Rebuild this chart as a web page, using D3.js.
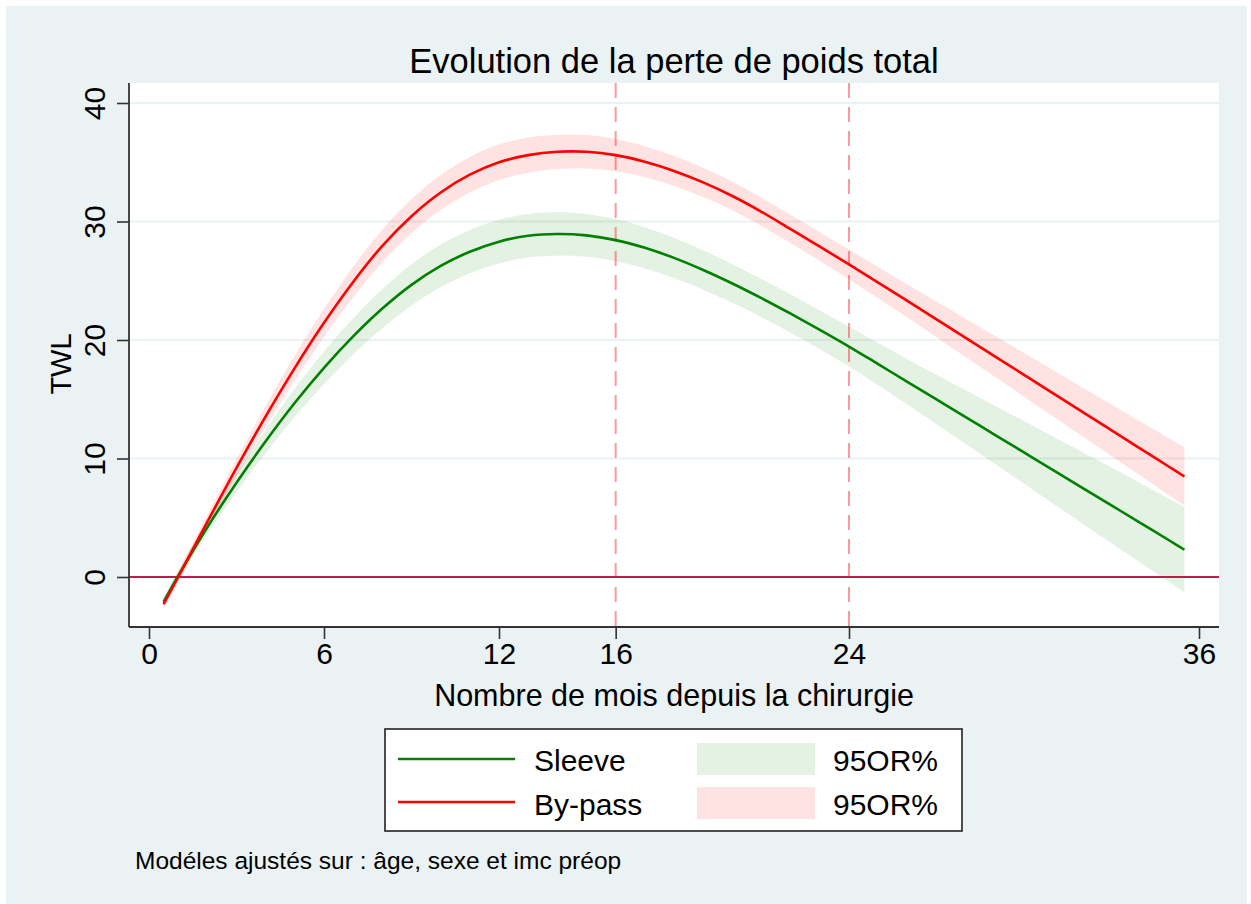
<!DOCTYPE html>
<html>
<head>
<meta charset="utf-8">
<script src="https://cdn.jsdelivr.net/npm/d3@7"></script>
<style>
  html, body { margin: 0; padding: 0; background: #ffffff; }
  svg { display: block; }
  text { font-family: "Liberation Sans", Arial, sans-serif; fill: #000; }
</style>
</head>
<body>
<svg id="chart" width="1251" height="904"></svg>
<script>
const months = [0.5,1,2,3,4,5,6,7,8,9,10,11,12,13,14,15,16,17,18,19,20,21,22,23,24,25,26,27,28,29,30,31,32,33,34,35,35.5];

const sleeve   = [-2.1,0.1,4.2,7.95,11.45,14.7,17.65,20.3,22.65,24.65,26.25,27.45,28.3,28.8,28.95,28.83,28.43,27.78,26.93,25.91,24.77,23.53,22.22,20.86,19.45,17.96,16.47,14.98,13.49,12.0,10.51,9.02,7.53,6.04,4.55,3.06,2.3];
const sleeveLo = [-2.5,-0.35,3.6,7.15,10.45,13.5,16.27,18.77,21.0,22.91,24.45,25.62,26.46,26.96,27.12,27.02,26.65,26.04,25.23,24.25,23.14,21.92,20.61,19.23,17.77,16.18,14.55,12.9,11.23,9.55,7.86,6.18,4.51,2.84,1.18,-0.46,-1.3];
const sleeveHi = [-1.7,0.55,4.8,8.75,12.45,15.9,19.03,21.83,24.3,26.39,28.05,29.28,30.14,30.64,30.78,30.64,30.21,29.52,28.63,27.57,26.4,25.14,23.83,22.49,21.13,19.74,18.39,17.06,15.75,14.45,13.16,11.86,10.55,9.24,7.92,6.58,5.9];

const bypass   = [-2.3,0.0,4.65,9.2,13.55,17.65,21.45,24.9,27.95,30.45,32.45,33.95,35.0,35.6,35.88,35.88,35.6,35.05,34.27,33.3,32.15,30.82,29.35,27.88,26.38,24.85,23.3,21.74,20.18,18.62,17.06,15.5,13.94,12.38,10.82,9.26,8.48];
const bypassLo = [-2.7,-0.45,4.05,8.45,12.65,16.6,20.27,23.61,26.57,29.01,30.97,32.45,33.5,34.12,34.43,34.47,34.24,33.74,33.0,32.07,30.95,29.63,28.16,26.67,25.13,23.53,21.89,20.23,18.56,16.89,15.22,13.55,11.88,10.21,8.54,6.86,6.02];
const bypassHi = [-1.9,0.45,5.25,9.95,14.45,18.7,22.63,26.19,29.33,31.89,33.93,35.45,36.5,37.08,37.33,37.29,36.96,36.36,35.54,34.53,33.35,32.01,30.54,29.09,27.63,26.17,24.71,23.25,21.8,20.35,18.9,17.45,16.0,14.55,13.1,11.66,10.94];

const xTicks = [0, 6, 12, 16, 24, 36];
const yTicks = [0, 10, 20, 30, 40];
const refMonths = [16, 24];
const refZero = [0];

const titleText = "Evolution de la perte de poids total";
const xTitle = "Nombre de mois depuis la chirurgie";
const yTitle = "TWL";
const seriesNames = ["Sleeve", "By-pass"];
const ciLabel = "95OR%";
const noteText = "Modéles ajustés sur : âge, sexe et imc préop";

// ---- layout ----
const svg = d3.select("#chart");
const plotL = 129, plotR = 1219, plotT = 83, plotB = 627;

svg.append("rect").attr("x", 6).attr("y", 6).attr("width", 1241).attr("height", 898).attr("fill", "#eaf2f3");
svg.append("rect").attr("x", plotL).attr("y", plotT).attr("width", plotR - plotL).attr("height", plotB - plotT).attr("fill", "#ffffff");

const x = d3.scaleLinear().domain([0, 36]).range([149, 1199]);
const y = d3.scaleLinear().domain([0, 40]).range([577, 103]);

// gridlines
svg.append("g").selectAll("line").data(yTicks.filter(d => d !== 0)).join("line")
  .attr("x1", plotL).attr("x2", plotR)
  .attr("y1", d => y(d)).attr("y2", d => y(d))
  .attr("stroke", "#eaf2f3").attr("stroke-width", 2);

function rows(mid, lo, hi) { return months.map((m, i) => ({ m, v: mid[i], lo: lo[i], hi: hi[i] })); }
const sData = rows(sleeve, sleeveLo, sleeveHi);
const bData = rows(bypass, bypassLo, bypassHi);

const curve = d3.curveCatmullRom.alpha(0.5);
const area = d3.area().x(d => x(d.m)).y0(d => y(d.lo)).y1(d => y(d.hi)).curve(curve);
const line = d3.line().x(d => x(d.m)).y(d => y(d.v)).curve(curve);

const greenBand = "rgba(0,128,0,0.105)";
const redBand = "rgba(255,0,0,0.115)";

svg.append("path").datum(sData).attr("d", area).attr("fill", greenBand);
svg.append("path").datum(bData).attr("d", area).attr("fill", redBand);

// reference lines
svg.append("g").selectAll("line").data(refMonths).join("line")
  .attr("x1", d => x(d)).attr("x2", d => x(d))
  .attr("y1", plotT).attr("y2", plotB)
  .attr("stroke", "rgba(255,50,50,0.5)").attr("stroke-width", 2)
  .attr("stroke-dasharray", "15,9");

svg.append("g").selectAll("line").data(refZero).join("line")
  .attr("x1", plotL).attr("x2", plotR)
  .attr("y1", d => y(d)).attr("y2", d => y(d))
  .attr("stroke", "#c21a4a").attr("stroke-width", 2.2);

svg.append("path").datum(sData).attr("d", line).attr("fill", "none").attr("stroke", "#008000").attr("stroke-width", 2.6);
svg.append("path").datum(bData).attr("d", line).attr("fill", "none").attr("stroke", "#ff0000").attr("stroke-width", 2.6);

// axes
const xAxis = d3.axisBottom(x).tickValues(xTicks).tickSize(12).tickSizeOuter(0).tickPadding(4);
const gx = svg.append("g").attr("transform", `translate(0,${plotB})`).call(xAxis);
gx.select(".domain").remove();
gx.selectAll(".tick line").attr("stroke", "#333").attr("stroke-width", 1.6);
gx.selectAll(".tick text").attr("font-size", 30).attr("font-family", "Liberation Sans, Arial, sans-serif").attr("fill", "#000");
svg.append("line").attr("x1", plotL).attr("x2", plotR).attr("y1", plotB).attr("y2", plotB).attr("stroke", "#333").attr("stroke-width", 1.8);

const yAxis = d3.axisLeft(y).tickValues(yTicks).tickSize(12).tickSizeOuter(0).tickFormat(d3.format("d"));
const gy = svg.append("g").attr("transform", `translate(${plotL},0)`).call(yAxis);
gy.select(".domain").remove();
gy.selectAll(".tick line").attr("stroke", "#333").attr("stroke-width", 1.6);
gy.selectAll(".tick text")
  .attr("font-size", 30).attr("font-family", "Liberation Sans, Arial, sans-serif").attr("fill", "#000")
  .attr("x", null).attr("dy", null)
  .attr("text-anchor", "middle")
  .attr("transform", "translate(-24,0) rotate(-90)");
svg.append("line").attr("x1", plotL).attr("x2", plotL).attr("y1", plotT).attr("y2", plotB).attr("stroke", "#333").attr("stroke-width", 1.8);

// titles
svg.append("text").attr("x", (plotL + plotR) / 2).attr("y", 73).attr("text-anchor", "middle")
  .attr("font-size", 34.5).text(titleText);
svg.append("text").attr("x", (plotL + plotR) / 2).attr("y", 706).attr("text-anchor", "middle")
  .attr("font-size", 30.5).text(xTitle);
svg.append("text").attr("transform", `translate(71,${(plotT + plotB) / 2 + 9}) rotate(-90)`).attr("text-anchor", "middle")
  .attr("font-size", 29).text(yTitle);

// legend
const lg = svg.append("g");
lg.append("rect").attr("x", 385).attr("y", 729).attr("width", 577).attr("height", 102)
  .attr("fill", "#ffffff").attr("stroke", "#222").attr("stroke-width", 1.6);
const legendItems = [
  { name: seriesNames[0], color: "#008000", band: greenBand, ly: 759, ty: 771, sy: 743 },
  { name: seriesNames[1], color: "#ff0000", band: redBand, ly: 802, ty: 815, sy: 787 }
];
legendItems.forEach(it => {
  lg.append("line").attr("x1", 398).attr("x2", 515).attr("y1", it.ly).attr("y2", it.ly)
    .attr("stroke", it.color).attr("stroke-width", 2.6);
  lg.append("text").attr("x", 534).attr("y", it.ty).attr("font-size", 30).text(it.name);
  lg.append("rect").attr("x", 697).attr("y", it.sy).attr("width", 118).attr("height", 32).attr("fill", it.band);
  lg.append("text").attr("x", 833).attr("y", it.ty).attr("font-size", 30).text(ciLabel);
});

svg.append("text").attr("x", 135).attr("y", 869).attr("font-size", 24.5).text(noteText);
</script>
</body>
</html>
